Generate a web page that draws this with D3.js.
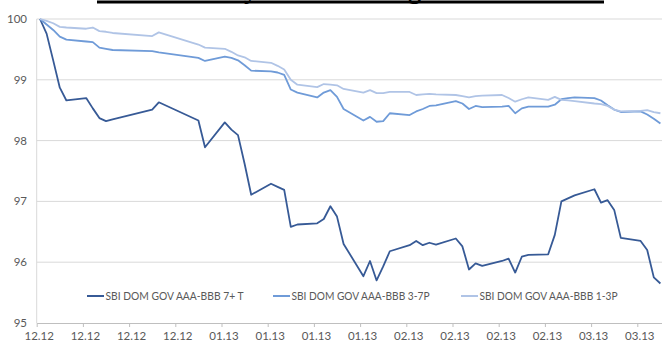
<!DOCTYPE html>
<html><head><meta charset="utf-8">
<script src="https://cdn.jsdelivr.net/npm/d3@7"></script>
<style>html,body{margin:0;padding:0;background:#fff;overflow:hidden}</style>
</head><body>
<svg id="c" width="662" height="345"></svg>
<script>
const dates = ["2012-12-10","2012-12-11","2012-12-12","2012-12-13","2012-12-14",
 "2012-12-17","2012-12-18","2012-12-19","2012-12-20","2012-12-21",
 "2012-12-27","2012-12-28",
 "2013-01-03","2013-01-04",
 "2013-01-07","2013-01-08","2013-01-09","2013-01-10","2013-01-11",
 "2013-01-14","2013-01-15","2013-01-16","2013-01-17","2013-01-18",
 "2013-01-21","2013-01-22","2013-01-23","2013-01-24","2013-01-25",
 "2013-01-28","2013-01-29","2013-01-30","2013-01-31","2013-02-01",
 "2013-02-04","2013-02-05","2013-02-06","2013-02-07","2013-02-08",
 "2013-02-11","2013-02-12","2013-02-13","2013-02-14","2013-02-15",
 "2013-02-18","2013-02-19","2013-02-20","2013-02-21","2013-02-22",
 "2013-02-25","2013-02-26","2013-02-27","2013-02-28","2013-03-01",
 "2013-03-04","2013-03-05","2013-03-06","2013-03-07","2013-03-08",
 "2013-03-11","2013-03-12","2013-03-13","2013-03-14"];

const seriesNames = ["SBI DOM GOV AAA-BBB 7+ T","SBI DOM GOV AAA-BBB 3-7P","SBI DOM GOV AAA-BBB 1-3P"];

const gov7T = [100, 99.76, 99.32, 98.87, 98.66,
 98.70, 98.53, 98.37, 98.32, 98.35,
 98.51, 98.63,
 98.33, 97.89,
 98.30, 98.18, 98.09, 97.62, 97.11,
 97.29, 97.24, 97.19, 96.58, 96.62,
 96.64, 96.71, 96.92, 96.75, 96.30,
 95.77, 96.02, 95.70, 95.93, 96.18,
 96.28, 96.35, 96.28, 96.32, 96.29,
 96.39, 96.26, 95.88, 95.98, 95.94,
 96.02, 96.06, 95.83, 96.09, 96.12,
 96.13, 96.45, 97.00, 97.05, 97.10,
 97.20, 96.98, 97.02, 96.86, 96.40,
 96.35, 96.20, 95.75, 95.65];

const gov37P = [100, 99.91, 99.82, 99.71, 99.66,
 99.63, 99.62, 99.53, 99.51, 99.49,
 99.47, 99.45,
 99.36, 99.31,
 99.38, 99.36, 99.32, 99.24, 99.15,
 99.14, 99.12, 99.08, 98.84, 98.79,
 98.71, 98.79, 98.83, 98.72, 98.52,
 98.33, 98.39, 98.31, 98.32, 98.45,
 98.42, 98.48, 98.52, 98.57, 98.58,
 98.65, 98.61, 98.52, 98.57, 98.55,
 98.56, 98.57, 98.45, 98.53, 98.56,
 98.56, 98.59, 98.68, 98.70, 98.71,
 98.70, 98.66, 98.58, 98.51, 98.47,
 98.48, 98.43, 98.36, 98.28];

const gov13P = [100, 99.97, 99.93, 99.87, 99.86,
 99.84, 99.86, 99.80, 99.79, 99.77,
 99.72, 99.78,
 99.58, 99.53,
 99.51, 99.46, 99.40, 99.37, 99.31,
 99.28, 99.23, 99.17, 99.00, 98.92,
 98.88, 98.93, 98.92, 98.91, 98.85,
 98.79, 98.83, 98.78, 98.78, 98.80,
 98.80, 98.75, 98.76, 98.77, 98.76,
 98.75, 98.73, 98.71, 98.73, 98.74,
 98.75, 98.70, 98.64, 98.68, 98.71,
 98.67, 98.72, 98.67, 98.66, 98.65,
 98.61, 98.60, 98.57, 98.51, 98.48,
 98.49, 98.50, 98.47, 98.45];

const tickDates = ["2012-12-10","2012-12-17","2012-12-24","2012-12-31","2013-01-07","2013-01-14","2013-01-21","2013-01-28","2013-02-04","2013-02-11","2013-02-18","2013-02-25","2013-03-04","2013-03-11"];
const tickLabels = ["12.12","12.12","12.12","12.12","01.13","01.13","01.13","01.13","02.13","02.13","02.13","02.13","03.13","03.13"];
const yTicks = [95, 96, 97, 98, 99, 100];

const colors = ["#375a96", "#6f9bd8", "#b0c4e6"];
const font = "Lato, 'Open Sans', sans-serif";

const parse = d3.utcParse("%Y-%m-%d");
const svg = d3.select("#c");

const mLeft = 36.7, mTop = 19, mBottom = 323;
const dayPx = 6.6;
const start = parse("2012-12-10");
const end = d3.utcDay.offset(start, 95);
const x = d3.scaleUtc().domain([start, end]).range([mLeft, mLeft + 95 * dayPx]);
const y = d3.scaleLinear().domain([95, 100]).range([mBottom, mTop]);
const mid = d => d3.utcHour.offset(parse(d), 12);

// title remnant: only the underline and two descenders are visible above the chart
const title = svg.append("g").attr("font-family", "'Liberation Serif', serif")
  .attr("font-weight", "bold").attr("font-size", 26).attr("fill", "#000");
title.append("text").attr("x", 244).attr("y", -1).text("y");
title.append("text").attr("x", 408).attr("y", -1).text("g");
svg.append("line").attr("x1", 97).attr("x2", 604).attr("y1", 2).attr("y2", 2)
  .attr("stroke", "#000").attr("stroke-width", 3);

// gridlines
svg.append("g").selectAll("line").data(yTicks.filter(v => v > 95)).join("line")
  .attr("x1", mLeft).attr("x2", 662).attr("y1", d => y(d)).attr("y2", d => y(d))
  .attr("stroke", "#d9d9d9").attr("stroke-width", 1);

// y axis line
svg.append("line").attr("x1", mLeft).attr("x2", mLeft).attr("y1", mTop).attr("y2", mBottom)
  .attr("stroke", "#d9d9d9");

// y labels
svg.append("g").selectAll("text").data(yTicks).join("text")
  .attr("x", 27).attr("y", d => y(d) + 4).attr("text-anchor", "end")
  .attr("font-family", font).attr("font-size", 11.5).attr("fill", "#595959")
  .text(d => d);

// x axis
const xAxis = d3.axisBottom(x)
  .tickValues(tickDates.map(parse))
  .tickFormat((d, i) => tickLabels[i])
  .tickSize(4).tickSizeOuter(0);
const gx = svg.append("g").attr("transform", `translate(0,${mBottom})`).call(xAxis);
gx.select(".domain").attr("stroke", "#bfbfbf");
gx.selectAll(".tick line").attr("stroke", "#bfbfbf");
gx.selectAll(".tick text").attr("font-family", font).attr("font-size", 11.5)
  .attr("fill", "#595959").attr("dy", "0").attr("y", 17).attr("dx", 2);

// lines
const allSeries = [gov7T, gov37P, gov13P];
const line = d3.line().x((d, i) => x(mid(dates[i]))).y(d => y(d));
svg.append("g").selectAll("path").data(allSeries).join("path")
  .attr("d", d => line(d)).attr("fill", "none")
  .attr("stroke", (d, i) => colors[i]).attr("stroke-width", 1.8)
  .attr("stroke-linejoin", "round");

// legend
const legX = [87, 273, 461];
const lg = svg.append("g").selectAll("g").data(seriesNames).join("g")
  .attr("transform", (d, i) => `translate(${legX[i]},296)`);
lg.append("line").attr("x1", 0).attr("x2", 17).attr("y1", 0).attr("y2", 0)
  .attr("stroke", (d, i) => colors[i]).attr("stroke-width", 2);
lg.append("text").attr("x", 18.5).attr("y", 4).attr("font-family", font)
  .attr("font-size", 11).attr("fill", "#595959")
  .attr("textLength", 138).attr("lengthAdjust", "spacingAndGlyphs").text(d => d);
</script>
</body></html>
